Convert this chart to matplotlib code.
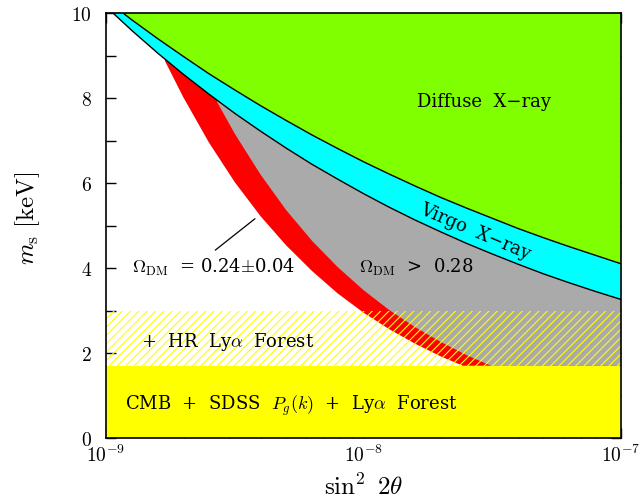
import matplotlib
matplotlib.use("Agg")
import matplotlib.pyplot as plt
from matplotlib.ticker import LogLocator, MultipleLocator, NullFormatter

# ---- data (x given as log10 of sin^2 2theta) ----
# Diffuse X-ray lower boundary
diffuse_logx = [-8.934, -8.9, -8.8, -8.7, -8.6, -8.5, -8.4, -8.3, -8.2, -8.1, -8.0,
                -7.9, -7.8, -7.7, -7.6, -7.5, -7.4, -7.3, -7.2, -7.1, -7.0]
diffuse_y = [10.0, 9.84, 9.40, 8.98, 8.57, 8.19, 7.82, 7.47, 7.13, 6.81, 6.50,
             6.21, 5.93, 5.66, 5.41, 5.17, 4.93, 4.71, 4.50, 4.30, 4.10]
# Virgo X-ray lower boundary
virgo_logx = [-8.973, -8.9, -8.8, -8.7, -8.6, -8.5, -8.4, -8.3, -8.2, -8.1, -8.0,
              -7.9, -7.8, -7.7, -7.6, -7.5, -7.4, -7.3, -7.2, -7.1, -7.0]
virgo_y = [10.0, 9.59, 9.06, 8.56, 8.09, 7.64, 7.22, 6.82, 6.44, 6.09, 5.75,
           5.43, 5.13, 4.85, 4.58, 4.33, 4.09, 3.86, 3.65, 3.45, 3.26]
# Omega_DM = 0.24 +- 0.04 band: lower (left) edge
red_lo_logx = [-8.771, -8.7, -8.6, -8.5, -8.4, -8.3, -8.2, -8.1, -8.0, -7.9, -7.8, -7.7, -7.614]
red_lo_y = [8.87, 8.02, 6.95, 6.02, 5.22, 4.53, 3.93, 3.40, 2.95, 2.56, 2.22, 1.92, 1.70]
# upper (right) edge = start of Omega_DM > 0.28
red_hi_logx = [-8.569, -8.5, -8.4, -8.3, -8.2, -8.1, -8.0, -7.9, -7.8, -7.7, -7.6, -7.501]
red_hi_y = [7.91, 7.16, 6.20, 5.36, 4.64, 4.02, 3.48, 3.01, 2.61, 2.26, 1.95, 1.69]
# Lyman-alpha limits
cmb_lya_limit = 1.7
hr_lya_limit = 3.0

xmin, xmax = 1e-9, 1e-7
ymin, ymax = 0.0, 10.0

def lin(logs):
    return [10.0 ** v for v in logs]

diffuse_x = lin(diffuse_logx)
virgo_x = lin(virgo_logx)
red_lo_x = lin(red_lo_logx)
red_hi_x = lin(red_hi_logx)

plt.rcParams['mathtext.fontset'] = 'cm'
plt.rcParams['font.family'] = 'serif'
plt.rcParams['font.serif'] = ['cmr10', 'DejaVu Serif']
plt.rcParams['axes.formatter.use_mathtext'] = True
plt.rcParams['hatch.linewidth'] = 0.8

fig = plt.figure(figsize=(6.44, 5.02), dpi=100)
ax = fig.add_axes([106/644, 63/502, 515/644, 425/502])
ax.set_xscale('log')
ax.set_xlim(xmin, xmax)
ax.set_ylim(ymin, ymax)

RED = '#ff0000'
GRAY = '#aaaaaa'
CYAN = '#00ffff'
GREEN = '#80ff00'
YELLOW = '#ffff00'

ax.fill(red_lo_x + [xmax, xmax, red_lo_x[0]],
        red_lo_y + [cmb_lya_limit, ymax, ymax], color=RED, lw=0, zorder=1)
ax.fill(red_hi_x + [xmax, xmax, red_hi_x[0]],
        red_hi_y + [cmb_lya_limit, ymax, ymax], color=GRAY, lw=0, zorder=2)
ax.fill(virgo_x + [xmax], virgo_y + [ymax], color=CYAN, lw=0, zorder=3)
ax.fill(diffuse_x + [xmax], diffuse_y + [ymax], color=GREEN, lw=0, zorder=4)
ax.plot(virgo_x, virgo_y, color='black', lw=1.0, zorder=5)
ax.plot(diffuse_x, diffuse_y, color='black', lw=1.0, zorder=5)

ax.fill_between([xmin, xmax], cmb_lya_limit, hr_lya_limit, facecolor='none',
                edgecolor=YELLOW, hatch='////', linewidth=0, zorder=6)
ax.fill_between([xmin, xmax], ymin, cmb_lya_limit, color=YELLOW, lw=0, zorder=7)

fs = 13
tf = 'DejaVu Serif'
ax.text(10**-7.532, 7.93, 'Diffuse  X\u2212ray', fontsize=fs, family=tf,
        ha='center', va='center', zorder=10)
ax.text(10**-7.567, 4.87, 'Virgo  X\u2212ray', fontsize=fs, family=tf,
        ha='center', va='center', rotation=-23, rotation_mode='anchor', zorder=10)
ax.text(10**-8.899, 3.90, r'$\Omega_{\mathrm{DM}}$  = 0.24$\pm$0.04', fontsize=fs,
        family=tf, ha='left', va='baseline', zorder=10)
ax.text(10**-8.0175, 3.90, r'$\Omega_{\mathrm{DM}}$  >  0.28', fontsize=fs,
        family=tf, ha='left', va='baseline', zorder=10)
ax.text(10**-8.864, 2.165, r'+  HR  Ly$\alpha$  Forest', fontsize=fs,
        family=tf, ha='left', va='baseline', zorder=10)
ax.text(10**-8.926, 0.68, r'CMB  +  SDSS  $P_g(k)$  +  Ly$\alpha$  Forest',
        fontsize=fs, family=tf, ha='left', va='baseline', zorder=10)
ax.annotate('', xy=(10**-8.413, 5.20), xytext=(10**-8.584, 4.38),
            arrowprops=dict(arrowstyle='-', color='black', lw=0.9), zorder=10)

ax.set_xlabel(r'$\sin^2\ 2\theta$', fontsize=18)
ax.xaxis.set_label_coords(0.5, -0.082)
ax.set_ylabel(r'$m_{\rm s}\ [\mathrm{keV}]$', fontsize=18)
ax.yaxis.set_label_coords(-0.125, 0.52)

ax.xaxis.set_major_locator(LogLocator(base=10, numticks=10))
ax.xaxis.set_minor_locator(LogLocator(base=10, subs=range(2, 10), numticks=10))
ax.xaxis.set_minor_formatter(NullFormatter())
ax.yaxis.set_major_locator(MultipleLocator(2))
ax.yaxis.set_minor_locator(MultipleLocator(1))
ax.tick_params(which='both', direction='in', top=True, right=True, width=1.0,
               labelsize=14)
ax.tick_params(which='major', length=7)
ax.tick_params(axis='x', which='minor', length=4)
ax.tick_params(axis='y', which='minor', length=7)
ax.tick_params(axis='x', pad=4)
ax.tick_params(axis='y', pad=10)
for s in ax.spines.values():
    s.set_linewidth(1.2)
    s.set_zorder(12)

fig.savefig('out.png', dpi=100)
